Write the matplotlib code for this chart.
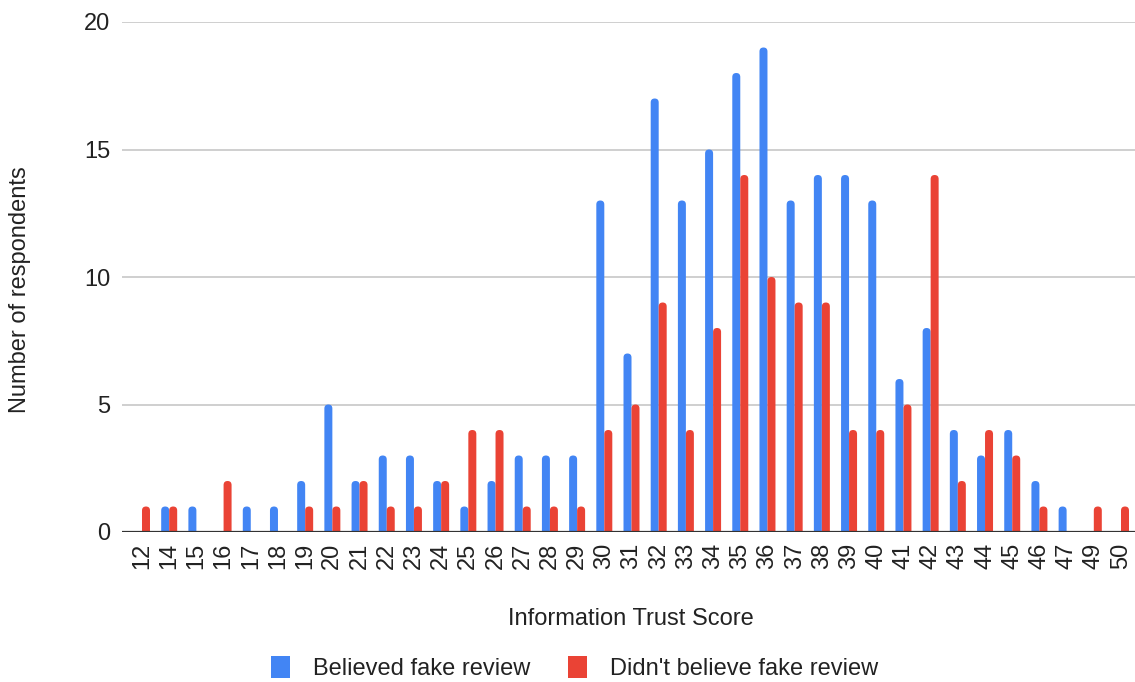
import matplotlib
matplotlib.use("Agg")
import matplotlib.pyplot as plt
from matplotlib.patches import FancyBboxPatch, Patch
import numpy as np

plt.rcParams['font.family'] = ['Liberation Sans', 'DejaVu Sans']

scores = ["12", "14", "15", "16", "17", "18", "19", "20", "21", "22", "23", "24", "25",
          "26", "27", "28", "29", "30", "31", "32", "33", "34", "35", "36", "37", "38",
          "39", "40", "41", "42", "43", "44", "45", "46", "47", "49", "50"]
believed = [0, 1, 1, 0, 1, 1, 2, 5, 2, 3, 3, 2, 1, 2, 3, 3, 3, 13, 7, 17, 13, 15, 18,
            19, 13, 14, 14, 13, 6, 8, 4, 3, 4, 2, 1, 0, 0]
not_believed = [1, 1, 0, 2, 0, 0, 1, 1, 2, 1, 1, 2, 4, 4, 1, 1, 1, 4, 5, 9, 4, 8, 14,
                10, 9, 9, 4, 4, 5, 14, 2, 4, 3, 1, 0, 1, 1]
series_names = ["Believed fake review", "Didn't believe fake review"]
colors = ["#4285F4", "#EA4335"]

W, H = 1135, 682
fig = plt.figure(figsize=(W / 100, H / 100), dpi=100)
left_px, right_px = 121.6, 1141.4
bottom_px, top_px = 532, 22
ax = fig.add_axes([left_px / W, 1 - bottom_px / H, (right_px - left_px) / W, (bottom_px - top_px) / H])

x = np.arange(len(scores))
bw = 0.294
ax.set_xlim(-0.75, len(scores) - 0.25)
ax.set_ylim(0, 20)

# pixel aspect for rounded tops
px_per_x = (right_px - left_px) / (len(scores) - 0.25 + 0.75)
px_per_y = (bottom_px - top_px) / 20
aspect = px_per_x / px_per_y
r = bw / 2

for vals, off, col in [(believed, -bw / 2, colors[0]), (not_believed, bw / 2, colors[1])]:
    bars = ax.bar(x + off, vals, width=bw, color=col, zorder=3)
    for b in bars:
        h = b.get_height()
        b.set_visible(False)
        if h <= 0:
            continue
        ext = r * aspect
        p = FancyBboxPatch((b.get_x(), -ext), b.get_width(), h + ext,
                           boxstyle=f"round,pad=0,rounding_size={r}",
                           mutation_aspect=aspect, facecolor=col, edgecolor='none',
                           zorder=3, clip_on=True)
        ax.add_patch(p)

ax.set_yticks([0, 5, 10, 15, 20])
ax.set_xticks(x)
ax.set_xticklabels(scores, rotation=90)
ax.grid(axis='y', color='#cccccc', linewidth=1.3, zorder=0)
ax.axhline(0, color='#333333', linewidth=1.6, zorder=4)
for s in ax.spines.values():
    s.set_visible(False)
ax.tick_params(axis='both', length=0, labelsize=17, colors='#222222')
ax.tick_params(axis='y', pad=8)
ax.tick_params(axis='x', pad=8)

fig.text(631 / W, 1 - 619 / H, "Information Trust Score", ha='center', va='center',
         fontsize=17, color='#222222')
fig.text(20 / W, 1 - 290 / H, "Number of respondents", ha='center', va='center',
         rotation=90, fontsize=17, color='#222222')

handles = [Patch(facecolor=c, edgecolor='none') for c in colors]
fig.legend(handles, series_names, loc='center', bbox_to_anchor=(575 / W, 1 - 668 / H),
           ncol=2, frameon=False, fontsize=17, handlelength=0.78, handleheight=1.1,
           handletextpad=1.0, columnspacing=1.6, labelcolor='#222222')

fig.savefig("out.png", dpi=100)
